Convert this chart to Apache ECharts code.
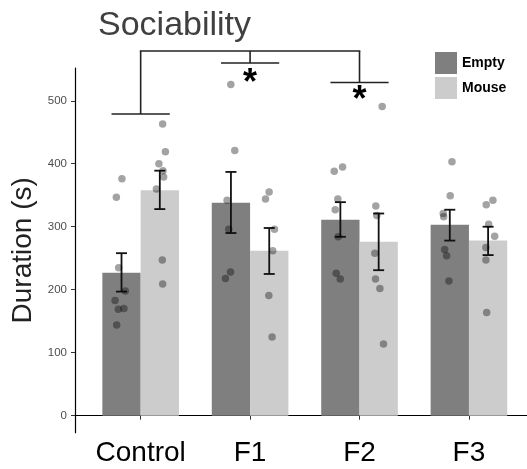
<!DOCTYPE html>
<html>
<head>
<meta charset="utf-8">
<script src="https://cdn.jsdelivr.net/npm/echarts@6/dist/echarts.min.js"></script>
<style>
html,body{margin:0;padding:0;background:#fff;}
#chart{width:527px;height:469px;}
</style>
</head>
<body>
<div id="chart"></div>
<script>
var categories = ['Control', 'F1', 'F2', 'F3'];
var groupNames = ['Empty', 'Mouse'];
var yTicks = [0, 100, 200, 300, 400, 500];

var emptyMean = [227, 338, 311, 303];
var mouseMean = [358, 262, 276, 278];
var emptyLow = [197, 290, 284, 278];
var emptyHigh = [258, 387, 339, 327];
var mouseLow = [328, 225, 231, 255];
var mouseHigh = [389, 298, 321, 300];

var emptyPoints = [
  [376, 347, 235, 198, 183, 169, 170, 144],
  [526, 421, 342, 296, 228, 218],
  [395, 388, 344, 327, 284, 226, 217],
  [403, 349, 321, 316, 264, 254, 214]
];
var emptyJitter = [
  [-0.171, -0.222, -0.201, -0.140, -0.234, -0.204, -0.153, -0.219],
  [-0.176, -0.140, -0.210, -0.195, -0.179, -0.225],
  [-0.155, -0.231, -0.198, -0.222, -0.195, -0.213, -0.176],
  [-0.155, -0.171, -0.235, -0.231, -0.222, -0.204, -0.183]
];
var mousePoints = [
  [463, 419, 400, 389, 379, 360, 247, 209],
  [355, 344, 296, 262, 191, 125],
  [491, 333, 318, 258, 217, 202, 114],
  [342, 335, 304, 285, 267, 247, 164]
];
var mouseJitter = [
  [0.201, 0.226, 0.167, 0.204, 0.210, 0.144, 0.198, 0.201],
  [0.174, 0.141, 0.223, 0.207, 0.171, 0.201],
  [0.207, 0.149, 0.158, 0.140, 0.146, 0.186, 0.219],
  [0.219, 0.158, 0.180, 0.235, 0.155, 0.155, 0.162]
];

// significance annotation: local brackets under groups, joined at the top
var bracketGroups = [1, 2, 3];          // category positions (1-based)
var bracketLevels = [479, 560, 529];    // y of each local bracket
var bracketTop = 579;
var starGroups = [2, 3];
var starLevels = [526, 499];

var COLORS = { Empty: '#7f7f7f', Mouse: '#cccccc' };
var BAR_W = 0.35;

function barData(means) {
  return means.map(function (v, i) { return [i + 1, v]; });
}
function errData(low, high, side) {
  return low.map(function (l, i) { return [i + 1 + side * BAR_W / 2, l, high[i]]; });
}
function pointData(points, jit) {
  var out = [];
  points.forEach(function (arr, i) {
    arr.forEach(function (v, j) { out.push([i + 1 + jit[i][j], v]); });
  });
  return out;
}

function barRender(side) {
  return function (params, api) {
    var x = api.value(0), v = api.value(1);
    var x0 = side < 0 ? x - BAR_W : x;
    var p1 = api.coord([x0, v]);
    var p2 = api.coord([x0 + BAR_W, 0]);
    return {
      type: 'rect',
      shape: { x: p1[0], y: p1[1], width: p2[0] - p1[0], height: p2[1] - p1[1] },
      style: { fill: api.visual('color') }
    };
  };
}

function errRender(params, api) {
  var x = api.value(0);
  var lo = api.coord([x, api.value(1)]);
  var hi = api.coord([x, api.value(2)]);
  var hw = 5.5;
  var st = { stroke: '#111', lineWidth: 1.8 };
  return {
    type: 'group',
    children: [
      { type: 'line', shape: { x1: lo[0], y1: lo[1], x2: hi[0], y2: hi[1] }, style: st },
      { type: 'line', shape: { x1: lo[0] - hw, y1: lo[1], x2: lo[0] + hw, y2: lo[1] }, style: st },
      { type: 'line', shape: { x1: hi[0] - hw, y1: hi[1], x2: hi[0] + hw, y2: hi[1] }, style: st }
    ]
  };
}

var bracketData = bracketGroups.map(function (g, i) { return [g, bracketLevels[i]]; });
function bracketRender(params, api) {
  var g = api.value(0), lvl = api.value(1);
  var st = { stroke: '#222', lineWidth: 1.6 };
  var a = api.coord([g - 0.266, lvl]);
  var b = api.coord([g + 0.266, lvl]);
  var m = api.coord([g, lvl]);
  var t = api.coord([g, bracketTop]);
  var children = [
    { type: 'line', shape: { x1: a[0], y1: a[1], x2: b[0], y2: b[1] }, style: st },
    { type: 'line', shape: { x1: m[0], y1: m[1], x2: t[0], y2: t[1] }, style: st }
  ];
  if (params.dataIndex === 0) {
    var e = api.coord([bracketGroups[bracketGroups.length - 1], bracketTop]);
    children.push({ type: 'line', shape: { x1: t[0] - 0.8, y1: t[1], x2: e[0] + 0.8, y2: e[1] }, style: st });
  }
  return { type: 'group', children: children };
}

var starData = starGroups.map(function (g, i) { return [g, starLevels[i]]; });
function starRender(params, api) {
  var p = api.coord([api.value(0), api.value(1)]);
  return {
    type: 'text',
    x: p[0], y: p[1],
    style: {
      text: '*', fill: '#000', font: 'bold 36px "Liberation Sans", Arial, sans-serif',
      align: 'center', verticalAlign: 'middle'
    }
  };
}

var chart = echarts.init(document.getElementById('chart'), null, { renderer: 'canvas' });
chart.setOption({
  animation: false,
  backgroundColor: '#ffffff',
  textStyle: { fontFamily: '"Liberation Sans", Arial, sans-serif' },
  title: {
    text: 'Sociability', left: 93, top: 4,
    textStyle: { fontSize: 34, fontWeight: 'normal', color: '#404040', fontFamily: '"Liberation Sans", Arial, sans-serif' }
  },
  legend: {
    data: groupNames, orient: 'vertical', left: 435, top: 52, padding: 0,
    itemWidth: 22, itemHeight: 22, itemGap: 3, icon: 'rect',
    textStyle: { fontSize: 14, fontWeight: 'bold', color: '#000' }
  },
  grid: { left: 75, top: 68, width: 459.6, height: 364.7, containLabel: false, outerBoundsMode: 'none' },
  xAxis: {
    type: 'value', min: 0.4, max: 4.6,
    splitLine: { show: false },
    axisLine: { show: true, lineStyle: { color: '#000', width: 1.2 } },
    axisTick: { show: true, length: 4, lineStyle: { color: '#333', width: 1 }, customValues: [1, 2, 3, 4] },
    axisLabel: {
      customValues: [1, 2, 3, 4], margin: 7,
      fontSize: 28, color: '#000',
      formatter: function (v) { return categories[Math.round(v) - 1] || ''; }
    }
  },
  yAxis: {
    type: 'value', min: -27, max: 552,
    name: 'Duration (s)', nameLocation: 'middle', nameRotate: 90, nameGap: 34,
    nameTextStyle: { fontSize: 28, color: '#222' },
    splitLine: { show: false },
    axisLine: { show: true, lineStyle: { color: '#000', width: 1.2 } },
    axisTick: { show: true, length: 4, lineStyle: { color: '#333', width: 1 }, customValues: yTicks },
    axisLabel: { customValues: yTicks, margin: 8, fontSize: 11.5, color: '#4d4d4d' }
  },
  series: [
    { name: 'Empty', type: 'custom', renderItem: barRender(-1), data: barData(emptyMean),
      itemStyle: { color: COLORS.Empty }, encode: { x: 0, y: 1 }, z: 1 },
    { name: 'Mouse', type: 'custom', renderItem: barRender(1), data: barData(mouseMean),
      itemStyle: { color: COLORS.Mouse }, encode: { x: 0, y: 1 }, z: 1 },
    { type: 'custom', renderItem: errRender, data: errData(emptyLow, emptyHigh, -1), encode: { x: 0, y: [1, 2] }, z: 2 },
    { type: 'custom', renderItem: errRender, data: errData(mouseLow, mouseHigh, 1), encode: { x: 0, y: [1, 2] }, z: 2 },
    { type: 'scatter', data: pointData(emptyPoints, emptyJitter), symbolSize: 7.5,
      itemStyle: { color: 'rgba(0,0,0,0.45)' }, z: 3 },
    { type: 'scatter', data: pointData(mousePoints, mouseJitter), symbolSize: 7.5,
      itemStyle: { color: 'rgba(0,0,0,0.45)' }, z: 3 },
    { type: 'custom', renderItem: bracketRender, data: bracketData, clip: false, encode: { x: 0, y: 1 }, z: 4 },
    { type: 'custom', renderItem: starRender, data: starData, clip: false, encode: { x: 0, y: 1 }, z: 4 }
  ]
});
</script>
</body>
</html>
